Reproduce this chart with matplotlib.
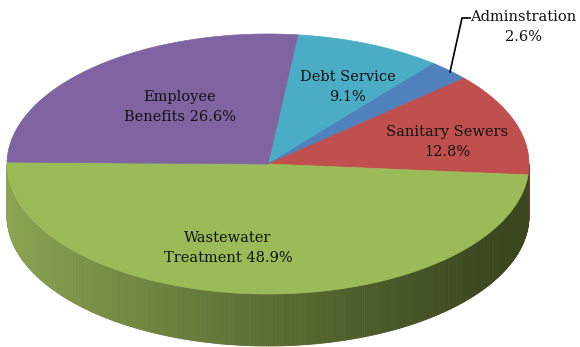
import numpy as np
import matplotlib
matplotlib.use("Agg")
import matplotlib.pyplot as plt
from matplotlib.patches import Polygon

# budget shares, listed clockwise from the top of the pie
labels = ["Debt Service", "Adminstration", "Sanitary Sewers",
          "Wastewater\nTreatment", "Employee\nBenefits"]
shares = [9.1, 2.6, 12.8, 48.9, 26.6]
colors = ["#4BACC6", "#4F81BD", "#C0504D", "#9BBB59", "#8064A2"]
side_colors = ["#2E7A8F", "#34598A", "#8A302D", None, "#5A4478"]

# pie geometry in pixel units (y grows downward)
cx, cy = 268, 164
rx, ry = 261, 130
depth = 52
start = 6.6  # degrees, clockwise from 12 o'clock


def rim(phi_deg, dy=0.0):
    p = np.radians(phi_deg)
    return cx + rx * np.sin(p), cy - ry * np.cos(p) + dy


fig = plt.figure(figsize=(5.8, 3.47), dpi=100)
ax = fig.add_axes([0, 0, 1, 1])
ax.set_xlim(0, 580)
ax.set_ylim(347, 0)
ax.axis("off")

bounds = start + 360 * np.cumsum([0] + shares) / sum(shares)

# side wall: only the front half (90..270 deg) is visible
light = np.array([0.55, 0.65, 0.32])
dark = np.array([0.23, 0.28, 0.12])
for i in range(len(shares)):
    a0, a1 = max(bounds[i], 90), min(bounds[i + 1], 270)
    if a1 <= a0:
        continue
    steps = np.linspace(a0, a1, max(int((a1 - a0) * 2), 2) + 1)
    for s0, s1 in zip(steps[:-1], steps[1:]):
        x0, y0 = rim(s0)
        x1, y1 = rim(s1)
        if side_colors[i] is None:
            t = np.clip(((x0 + x1) / 2 - 7) / 480, 0, 1) ** 0.85
            c = light + (dark - light) * t
        else:
            c = side_colors[i]
        quad = [(x0, y0), (x1, y1), (x1, y1 + depth), (x0, y0 + depth)]
        ax.add_patch(Polygon(quad, closed=True, fc=c, ec=c, lw=0.6))

# top face wedges
for i in range(len(shares)):
    phis = np.linspace(bounds[i], bounds[i + 1], 200)
    xs, ys = rim(phis)
    pts = [(cx, cy)] + list(zip(xs, ys))
    ax.add_patch(Polygon(pts, closed=True, fc=colors[i], ec=colors[i], lw=0.5))

font = dict(family="DejaVu Serif", fontsize=10.5, color="#111111",
            ha="center", va="center", linespacing=1.6)
ax.text(180, 107, f"{labels[4]} {shares[4]}%", **font)
ax.text(348, 87, f"{labels[0]}\n{shares[0]}%", **font)
ax.text(447, 142, f"{labels[2]}\n{shares[2]}%", **font)
ax.text(228, 248, f"{labels[3]} {shares[3]}%", **font)
ax.text(523, 27, f"{labels[1]}\n{shares[1]}%", **font)

# leader line for the small slice
ax.plot([470, 462, 450], [18, 18, 72], color="black", lw=1.2)

fig.savefig("out.png", dpi=100)
